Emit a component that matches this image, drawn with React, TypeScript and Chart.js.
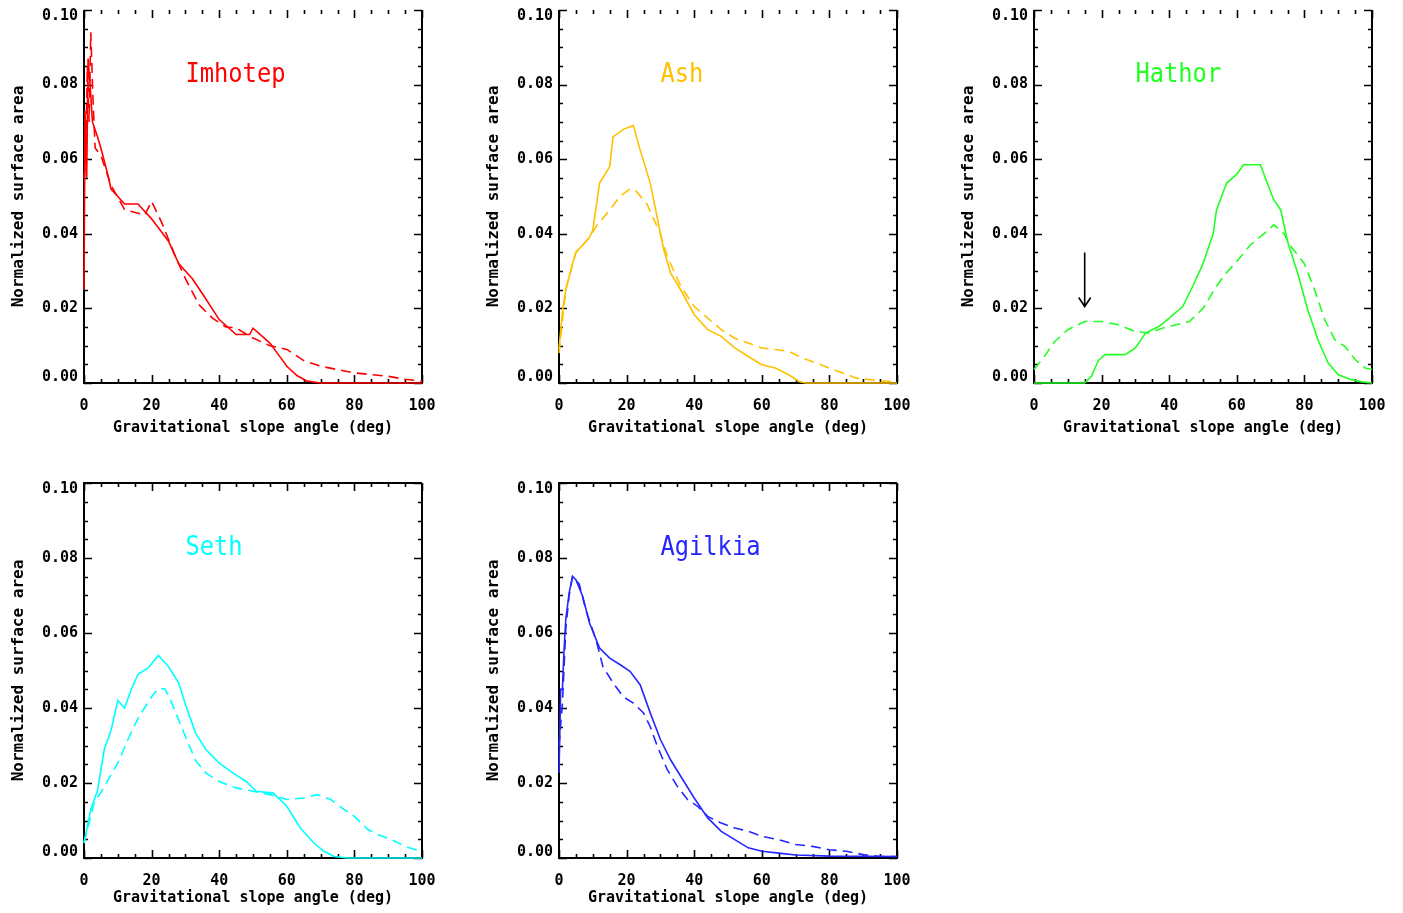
import React, { useEffect, useRef } from 'react';
import { Chart, registerables } from 'chart.js';

Chart.register(...registerables);

// ---------- text & ticks ----------
const xTickValues = [0, 20, 40, 60, 80, 100];
const yTickValues = [0, 0.02, 0.04, 0.06, 0.08, 0.1];
const xMinorStep = 5;
const yMinorStep = 0.005;
const xAxisTitle = 'Gravitational slope angle (deg)';
const yAxisTitle = 'Normalized surface area';
const panelNames = ['Imhotep', 'Ash', 'Hathor', 'Seth', 'Agilkia'];
const panelColors = ['#ff0000', '#ffc000', '#22ff22', '#00ffff', '#2626ff'];
const labelX = 30;
const labelY = 0.0808;

// ---------- data (slope angle in deg, normalized area) ----------
const imhotepSolidX = [0, 0.3, 0.8, 1.2, 1.8, 2.5, 4, 5, 7, 8, 10, 12, 16, 18, 20, 25, 28, 32, 35, 40, 45, 49, 50, 55, 58, 60, 63, 66, 70, 100];
const imhotepSolidY = [0.025, 0.073, 0.055, 0.087, 0.08, 0.07, 0.066, 0.063, 0.056, 0.052, 0.05, 0.048, 0.048, 0.046, 0.044, 0.038, 0.032, 0.028, 0.024, 0.017, 0.013, 0.013, 0.0147, 0.0107, 0.007, 0.0045, 0.002, 0.0005, 0, 0];
const imhotepDashX = [0, 0.5, 1, 1.5, 2, 2.7, 3.3, 5, 8, 12, 18, 20, 23, 27, 30, 34, 38, 42, 45, 49, 55, 60, 65, 70, 75, 80, 90, 95, 100];
const imhotepDashY = [0.055, 0.06, 0.085, 0.07, 0.094, 0.075, 0.063, 0.061, 0.053, 0.0465, 0.045, 0.0487, 0.043, 0.034, 0.028, 0.021, 0.0174, 0.015, 0.0148, 0.0125, 0.01, 0.009, 0.006, 0.0045, 0.0036, 0.0027, 0.0018, 0.001, 0.0005];

const ashSolidX = [0, 1, 2, 4, 5, 9, 10, 12, 15, 16, 19, 22, 24, 27, 29, 31, 33, 36, 40, 44, 48, 52, 56, 60, 64, 68, 71, 73, 100];
const ashSolidY = [0.009, 0.019, 0.025, 0.032, 0.035, 0.039, 0.041, 0.0536, 0.058, 0.066, 0.068, 0.069, 0.0625, 0.0536, 0.0446, 0.0357, 0.0295, 0.025, 0.0183, 0.0143, 0.0125, 0.0094, 0.0071, 0.0049, 0.004, 0.0022, 0.0004, 0, 0];
const ashDashX = [0, 2, 5, 9, 11, 15, 18, 21, 23, 26, 27, 30, 32, 36, 40, 44, 48, 52, 56, 60, 64, 68, 72, 76, 80, 84, 88, 92, 96, 100];
const ashDashY = [0.008, 0.025, 0.035, 0.039, 0.042, 0.0464, 0.05, 0.052, 0.0513, 0.048, 0.046, 0.04, 0.034, 0.026, 0.0205, 0.0174, 0.0143, 0.012, 0.0107, 0.0094, 0.009, 0.0085, 0.0067, 0.0054, 0.004, 0.0027, 0.0013, 0.0009, 0.0005, 0.0003];

const hathorSolidX = [0, 15, 17, 19, 21, 27, 30, 33, 37, 40, 44, 47, 50, 53, 54, 57, 60, 62, 67, 69, 71, 73, 75, 78, 81, 84, 87, 90, 94, 97, 100];
const hathorSolidY = [0, 0, 0.0018, 0.006, 0.0076, 0.0076, 0.0094, 0.0134, 0.0152, 0.0174, 0.0205, 0.026, 0.032, 0.04, 0.0464, 0.0536, 0.056, 0.0585, 0.0585, 0.0536, 0.049, 0.0464, 0.038, 0.0295, 0.0196, 0.0116, 0.0054, 0.0022, 0.0009, 0.0003, 0];
const hathorDashX = [0, 3, 6, 10, 15, 20, 25, 30, 34, 38, 42, 46, 50, 53, 56, 60, 64, 68, 71, 74, 76, 80, 83, 86, 89, 92, 95, 98, 100];
const hathorDashY = [0.0036, 0.007, 0.011, 0.0143, 0.0165, 0.0165, 0.0156, 0.0138, 0.0134, 0.0147, 0.0156, 0.0165, 0.02, 0.0245, 0.0286, 0.0326, 0.037, 0.04, 0.0424, 0.04, 0.0366, 0.032, 0.025, 0.017, 0.0116, 0.0098, 0.0063, 0.004, 0.0036];
const hathorArrowX = 15;
const hathorArrowFromY = 0.035;
const hathorArrowToY = 0.0205;

const sethSolidX = [0, 2, 4, 6, 8, 10, 12, 14, 16, 19, 22, 25, 28, 30, 33, 36, 40, 44, 48, 51, 56, 60, 64, 68, 71, 74, 78, 100];
const sethSolidY = [0.004, 0.0129, 0.018, 0.029, 0.034, 0.042, 0.04, 0.045, 0.049, 0.0507, 0.054, 0.051, 0.0467, 0.041, 0.0333, 0.029, 0.0253, 0.0227, 0.0204, 0.0178, 0.0173, 0.0138, 0.008, 0.004, 0.0018, 0.0004, 0, 0];
const sethDashX = [0, 3, 6, 10, 13, 16, 20, 22, 24, 26, 30, 33, 36, 40, 45, 50, 55, 60, 65, 69, 73, 77, 80, 84, 87, 91, 95, 98, 100];
const sethDashY = [0.004, 0.0147, 0.019, 0.0253, 0.0316, 0.0373, 0.043, 0.0453, 0.045, 0.0413, 0.0324, 0.026, 0.0227, 0.0204, 0.0187, 0.0178, 0.0169, 0.0156, 0.016, 0.0169, 0.0156, 0.0129, 0.0111, 0.0076, 0.0062, 0.0049, 0.0031, 0.0022, 0.002];

const agilkiaSolidX = [0, 0.5, 1, 1.5, 2, 3, 4, 5, 7, 9, 12, 15, 18, 21, 24, 27, 30, 33, 36, 40, 44, 48, 52, 56, 60, 65, 70, 80, 100];
const agilkiaSolidY = [0.0227, 0.045, 0.045, 0.0556, 0.0636, 0.0707, 0.0751, 0.0742, 0.0698, 0.0627, 0.056, 0.0533, 0.0516, 0.0498, 0.0462, 0.0387, 0.0316, 0.0262, 0.0218, 0.016, 0.0107, 0.0071, 0.0049, 0.0027, 0.0018, 0.0013, 0.0008, 0.0005, 0.0004];
const agilkiaDashX = [0, 1, 2, 3, 4, 6, 8, 11, 13, 16, 19, 22, 25, 27, 29, 32, 35, 38, 41, 44, 48, 52, 56, 60, 65, 70, 75, 80, 85, 90, 95, 100];
const agilkiaDashY = [0.03, 0.041, 0.061, 0.07, 0.075, 0.073, 0.066, 0.058, 0.051, 0.0467, 0.043, 0.0413, 0.0387, 0.035, 0.03, 0.0236, 0.0191, 0.0156, 0.0138, 0.0111, 0.0093, 0.008, 0.0071, 0.0058, 0.0049, 0.0036, 0.0031, 0.0022, 0.0018, 0.0009, 0.0004, 0.0004];

const solidXs = [imhotepSolidX, ashSolidX, hathorSolidX, sethSolidX, agilkiaSolidX];
const solidYs = [imhotepSolidY, ashSolidY, hathorSolidY, sethSolidY, agilkiaSolidY];
const dashXs = [imhotepDashX, ashDashX, hathorDashX, sethDashX, agilkiaDashX];
const dashYs = [imhotepDashY, ashDashY, hathorDashY, sethDashY, agilkiaDashY];

// ---------- layout ----------
const COL_LEFT = [0, 475, 950];
const ROW_TOP = [0, 470];
const CANVAS_W = 450;
const ROW_H = [440, 443];
const PLOT_LEFT = 84;
const PLOT_RIGHT = 422;
const PLOT_TOP = [10, 13];
const PLOT_BOTTOM = [383, 388];
const PANEL_POS = [
  { col: 0, row: 0 },
  { col: 1, row: 0 },
  { col: 2, row: 0 },
  { col: 0, row: 1 },
  { col: 1, row: 1 },
];

const MONO = '"DejaVu Sans Mono", "Liberation Mono", monospace';

const pts = (xs: number[], ys: number[]) => xs.map((x, i) => ({ x, y: ys[i] }));

const framePlugin = {
  id: 'frame',
  beforeDatasetsDraw(chart: any, _args: any, opts: any) {
    const { ctx, chartArea, scales } = chart;
    const { left, right, top, bottom } = chartArea;
    const xs = scales.x;
    const ys = scales.y;
    ctx.save();
    ctx.strokeStyle = '#000';
    ctx.lineWidth = 2;
    ctx.beginPath();
    if (opts.topLine) {
      ctx.moveTo(right, top);
      ctx.lineTo(left, top);
    } else {
      ctx.moveTo(left, top);
    }
    ctx.lineTo(left, bottom);
    ctx.lineTo(right, bottom);
    ctx.lineTo(right, top);
    ctx.stroke();
    ctx.lineWidth = 1.6;
    ctx.beginPath();
    for (let v = xs.min; v <= xs.max + 1e-9; v += xMinorStep) {
      const px = Math.round(xs.getPixelForValue(v)) + 0.5;
      const len = xTickValues.includes(v) ? 8 : 4;
      ctx.moveTo(px, bottom);
      ctx.lineTo(px, bottom - len);
      ctx.moveTo(px, top);
      ctx.lineTo(px, top + len);
    }
    const nY = Math.round((ys.max - ys.min) / yMinorStep);
    for (let k = 0; k <= nY; k++) {
      const v = ys.min + k * yMinorStep;
      const py = Math.round(ys.getPixelForValue(v)) + 0.5;
      const len = k % 4 === 0 ? 8 : 4;
      ctx.moveTo(left, py);
      ctx.lineTo(left + len, py);
      ctx.moveTo(right, py);
      ctx.lineTo(right - len, py);
    }
    ctx.stroke();
    ctx.restore();
  },
  afterDatasetsDraw(chart: any, _args: any, opts: any) {
    const { ctx, scales } = chart;
    const xs = scales.x;
    const ys = scales.y;
    ctx.save();
    ctx.fillStyle = opts.color;
    ctx.font = `27px ${MONO}`;
    ctx.textBaseline = 'alphabetic';
    ctx.textAlign = 'left';
    const lx = xs.getPixelForValue(labelX);
    const ly = ys.getPixelForValue(labelY);
    ctx.translate(lx, ly);
    ctx.scale(0.88, 1);
    ctx.fillText(opts.name, 0, 0);
    ctx.restore();
    if (opts.arrow) {
      const ax = xs.getPixelForValue(opts.arrow.x);
      const ay0 = ys.getPixelForValue(opts.arrow.from);
      const ay1 = ys.getPixelForValue(opts.arrow.to);
      ctx.save();
      ctx.strokeStyle = '#000';
      ctx.lineWidth = 1.6;
      ctx.beginPath();
      ctx.moveTo(ax, ay0);
      ctx.lineTo(ax, ay1);
      ctx.moveTo(ax - 6, ay1 - 9);
      ctx.lineTo(ax, ay1);
      ctx.lineTo(ax + 6, ay1 - 9);
      ctx.stroke();
      ctx.restore();
    }
  },
};

function Panel({ idx }: { idx: number }) {
  const ref = useRef<HTMLCanvasElement | null>(null);
  const { col, row } = PANEL_POS[idx];
  const h = ROW_H[row];
  useEffect(() => {
    if (!ref.current) return;
    const xTickFont = { family: MONO, size: 15, weight: 'bold' as const };
    const yTickFont = { family: MONO, size: 15, weight: 'bold' as const, lineHeight: 0.8 };
    const yMin = yTickValues[0];
    const yMax = yTickValues[yTickValues.length - 1];
    const chart = new Chart(ref.current, {
      type: 'line',
      data: {
        datasets: [
          {
            data: pts(solidXs[idx], solidYs[idx]),
            borderColor: panelColors[idx],
            borderWidth: 1.6,
            pointRadius: 0,
            tension: 0,
            fill: false,
            clip: 4,
          } as any,
          {
            data: pts(dashXs[idx], dashYs[idx]),
            borderColor: panelColors[idx],
            borderWidth: 1.6,
            borderDash: [10, 6],
            pointRadius: 0,
            tension: 0,
            fill: false,
            clip: 4,
          } as any,
        ],
      },
      options: {
        animation: false,
        responsive: false,
        maintainAspectRatio: false,
        layout: { padding: { top: PLOT_TOP[row], right: CANVAS_W - PLOT_RIGHT, bottom: 0, left: 0 } },
        plugins: {
          legend: { display: false },
          tooltip: { enabled: false },
          frame: {
            topLine: row === 1,
            color: panelColors[idx],
            name: panelNames[idx],
            arrow: idx === 2 ? { x: hathorArrowX, from: hathorArrowFromY, to: hathorArrowToY } : null,
          },
        } as any,
        scales: {
          x: {
            type: 'linear',
            min: 0,
            max: 100,
            afterBuildTicks: (s: any) => {
              s.ticks = xTickValues.map((v) => ({ value: v }));
            },
            ticks: {
              font: xTickFont,
              color: '#000',
              padding: 14,
              maxRotation: 0,
              autoSkip: false,
              callback: (v: any) => String(v),
            },
            grid: { display: false, drawTicks: false },
            border: { display: false },
            title: {
              display: true,
              text: xAxisTitle,
              color: '#000',
              font: { family: MONO, size: 15, weight: 'bold' },
              padding: { top: 0, bottom: row === 0 ? 3 : 6 },
            },
            afterFit: (s: any) => {
              s.height = h - PLOT_BOTTOM[row];
            },
          },
          y: {
            type: 'linear',
            min: yMin,
            max: yMax,
            afterBuildTicks: (s: any) => {
              s.ticks = yTickValues.map((v) => ({ value: v }));
            },
            ticks: {
              font: yTickFont,
              color: '#000',
              padding: 6,
              autoSkip: false,
              callback: (v: any) => {
                const t = Number(v).toFixed(2);
                // keep the end labels inside the frame, as in the original plot
                if (Math.abs(v - yMin) < 1e-9) return [t, ''];
                if (Math.abs(v - yMax) < 1e-9) return ['', t];
                return t;
              },
            },
            grid: { display: false, drawTicks: false },
            border: { display: false },
            title: {
              display: true,
              text: yAxisTitle,
              color: '#000',
              font: { family: MONO, size: 16, weight: 'bold' },
              padding: { top: 9, bottom: 0 },
            },
            afterFit: (s: any) => {
              s.width = PLOT_LEFT;
              s.paddingTop = 0;
              s.paddingBottom = 0;
            },
          },
        },
      },
      plugins: [framePlugin],
    } as any);
    return () => chart.destroy();
  }, [idx]);
  return (
    <canvas
      ref={ref}
      width={CANVAS_W}
      height={h}
      style={{ position: 'absolute', left: COL_LEFT[col], top: ROW_TOP[row], width: CANVAS_W, height: h }}
    />
  );
}

export default function App() {
  return (
    <div style={{ position: 'fixed', left: 0, top: 0, width: 1403, height: 913, background: '#fff', overflow: 'hidden' }}>
      {PANEL_POS.map((_, i) => (
        <Panel key={i} idx={i} />
      ))}
    </div>
  );
}
